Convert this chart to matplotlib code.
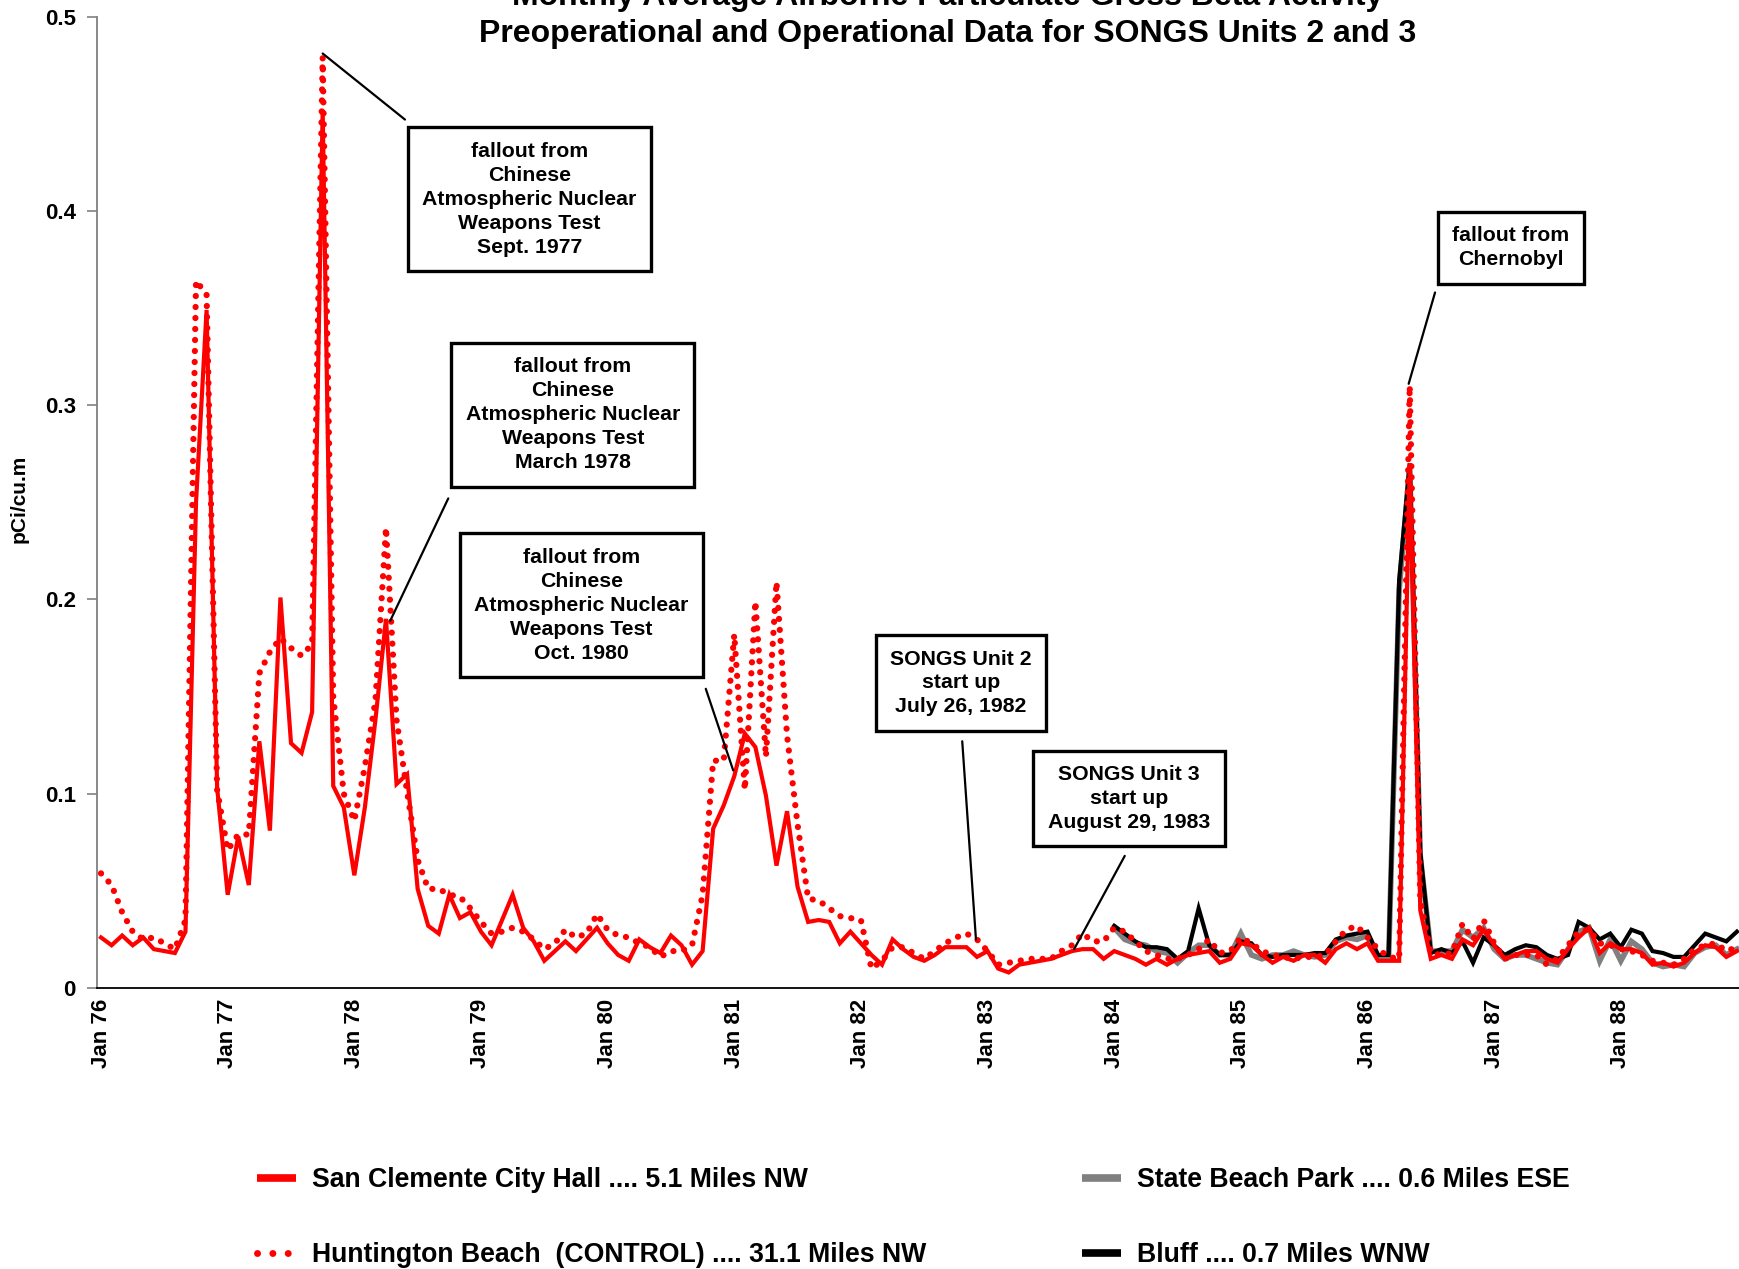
import numpy as np
import matplotlib
matplotlib.use("Agg")
import matplotlib.pyplot as plt
from matplotlib.lines import Line2D

plt.rcParams['font.family'] = ['Liberation Sans', 'DejaVu Sans']
plt.rcParams['font.weight'] = 'bold'

# ---------------- data (monthly, Jan 1976 - Dec 1988) ----------------
year_labels = ["Jan 76", "Jan 77", "Jan 78", "Jan 79", "Jan 80", "Jan 81", "Jan 82",
               "Jan 83", "Jan 84", "Jan 85", "Jan 86", "Jan 87", "Jan 88"]

san_clemente = [
    0.026, 0.022, 0.027, 0.022, 0.026, 0.020, 0.019, 0.018, 0.029, 0.250, 0.349, 0.103,  # 1976
    0.048, 0.078, 0.053, 0.127, 0.081, 0.201, 0.126, 0.121, 0.142, 0.452, 0.104, 0.093,  # 1977
    0.058, 0.093, 0.138, 0.190, 0.105, 0.110, 0.051, 0.032, 0.028, 0.048, 0.036, 0.039,  # 1978
    0.029, 0.022, 0.035, 0.048, 0.031, 0.024, 0.014, 0.019, 0.024, 0.019, 0.025, 0.031,  # 1979
    0.023, 0.017, 0.014, 0.025, 0.021, 0.018, 0.027, 0.022, 0.012, 0.019, 0.082, 0.094,  # 1980
    0.109, 0.131, 0.124, 0.099, 0.063, 0.091, 0.052, 0.034, 0.035, 0.034, 0.023, 0.029,  # 1981
    0.023, 0.017, 0.012, 0.025, 0.020, 0.016, 0.014, 0.017, 0.021, 0.021, 0.021, 0.016,  # 1982
    0.019, 0.010, 0.008, 0.012, 0.013, 0.014, 0.015, 0.017, 0.019, 0.020, 0.020, 0.015,  # 1983
    0.019, 0.017, 0.015, 0.012, 0.015, 0.012, 0.015, 0.017, 0.018, 0.019, 0.013, 0.015,  # 1984
    0.023, 0.022, 0.017, 0.013, 0.016, 0.014, 0.017, 0.017, 0.013, 0.020, 0.023, 0.020,  # 1985
    0.023, 0.014, 0.014, 0.014, 0.270, 0.040, 0.015, 0.017, 0.015, 0.025, 0.022, 0.030,  # 1986
    0.022, 0.015, 0.017, 0.019, 0.019, 0.015, 0.013, 0.020, 0.026, 0.031, 0.018, 0.023,  # 1987
    0.020, 0.020, 0.018, 0.012, 0.013, 0.011, 0.013, 0.018, 0.022, 0.021, 0.016, 0.019,  # 1988
]

huntington = [
    0.059, 0.053, 0.039, 0.029, 0.025, 0.026, 0.023, 0.020, 0.035, 0.364, 0.357, 0.102,  # 1976
    0.071, 0.079, 0.079, 0.162, 0.173, 0.180, 0.175, 0.171, 0.177, 0.479, 0.150, 0.100,  # 1977
    0.086, 0.114, 0.148, 0.237, 0.138, 0.101, 0.066, 0.051, 0.051, 0.048, 0.047, 0.041,  # 1978
    0.034, 0.028, 0.029, 0.031, 0.029, 0.025, 0.020, 0.023, 0.030, 0.026, 0.028, 0.038,  # 1979
    0.030, 0.027, 0.026, 0.023, 0.021, 0.016, 0.019, 0.019, 0.022, 0.048, 0.117, 0.117,  # 1980
    0.182, 0.102, 0.199, 0.119, 0.209, 0.130, 0.084, 0.046, 0.045, 0.041, 0.037, 0.036,  # 1981
    0.035, 0.010, 0.014, 0.021, 0.021, 0.018, 0.015, 0.019, 0.023, 0.026, 0.028, 0.025,  # 1982
    0.019, 0.012, 0.013, 0.014, 0.015, 0.015, 0.015, 0.019, 0.022, 0.028, 0.024, 0.024,  # 1983
    0.031, 0.029, 0.024, 0.019, 0.017, 0.015, 0.015, 0.017, 0.020, 0.025, 0.018, 0.019,  # 1984
    0.026, 0.023, 0.019, 0.017, 0.016, 0.015, 0.016, 0.016, 0.017, 0.024, 0.030, 0.032,  # 1985
    0.026, 0.020, 0.016, 0.015, 0.310, 0.045, 0.018, 0.017, 0.018, 0.033, 0.025, 0.035,  # 1986
    0.023, 0.015, 0.017, 0.017, 0.017, 0.012, 0.015, 0.022, 0.029, 0.030, 0.023, 0.022,  # 1987
    0.020, 0.019, 0.017, 0.014, 0.013, 0.012, 0.015, 0.020, 0.022, 0.023, 0.019, 0.021,  # 1988
]

# State Beach Park and Bluff stations: Jan 1984 - Dec 1988
onsite_start_month = 96
state_beach = [
    0.031, 0.025, 0.023, 0.022, 0.019, 0.018, 0.013, 0.018, 0.022, 0.022, 0.017, 0.017,  # 1984
    0.028, 0.017, 0.015, 0.017, 0.017, 0.019, 0.017, 0.016, 0.017, 0.024, 0.026, 0.025,  # 1985
    0.027, 0.016, 0.015, 0.205, 0.268, 0.068, 0.019, 0.019, 0.019, 0.030, 0.026, 0.031,  # 1986
    0.020, 0.015, 0.017, 0.017, 0.015, 0.013, 0.012, 0.020, 0.029, 0.031, 0.014, 0.025,  # 1987
    0.014, 0.024, 0.020, 0.013, 0.011, 0.012, 0.011, 0.018, 0.021, 0.022, 0.017, 0.020,  # 1988
]
bluff = [
    0.032, 0.028, 0.024, 0.021, 0.021, 0.020, 0.015, 0.019, 0.041, 0.022, 0.017, 0.017,  # 1984
    0.024, 0.023, 0.017, 0.016, 0.017, 0.017, 0.017, 0.018, 0.018, 0.025, 0.027, 0.028,  # 1985
    0.029, 0.017, 0.017, 0.210, 0.270, 0.070, 0.018, 0.020, 0.018, 0.024, 0.013, 0.026,  # 1986
    0.022, 0.017, 0.020, 0.022, 0.021, 0.017, 0.015, 0.017, 0.034, 0.031, 0.025, 0.028,  # 1987
    0.021, 0.030, 0.028, 0.019, 0.018, 0.016, 0.016, 0.022, 0.028, 0.026, 0.024, 0.029,  # 1988
]

series_labels = ["San Clemente City Hall .... 5.1 Miles NW",
                 "Huntington Beach  (CONTROL) .... 31.1 Miles NW",
                 "State Beach Park .... 0.6 Miles ESE",
                 "Bluff .... 0.7 Miles WNW"]

annotations = [
    # text, box centre (month, value), leader start, leader tip
    ("fallout from\nChinese\nAtmospheric Nuclear\nWeapons Test\nSept. 1977", (40.6, 0.406), (28.8, 0.447), (21.0, 0.481)),
    ("fallout from\nChinese\nAtmospheric Nuclear\nWeapons Test\nMarch 1978", (44.7, 0.295), (32.9, 0.252), (27.4, 0.189)),
    ("fallout from\nChinese\nAtmospheric Nuclear\nWeapons Test\nOct. 1980", (45.5, 0.197), (57.3, 0.154), (59.9, 0.112)),
    ("SONGS Unit 2\nstart up\nJuly 26, 1982", (81.5, 0.157), (81.6, 0.127), (82.9, 0.025)),
    ("SONGS Unit 3\nstart up\nAugust 29, 1983", (97.4, 0.0975), (97.0, 0.068), (92.2, 0.020)),
    ("fallout from\nChernobyl", (133.6, 0.381), (126.4, 0.358), (123.9, 0.311)),
]

# ---------------- figure ----------------
W, H = 1739, 1269
fig = plt.figure(figsize=(W / 100, H / 100), dpi=100)
ax = fig.add_axes([96.5 / W, 1 - 988 / H, 1 - 96.5 / W, (988 - 16.6) / H])

months = np.arange(len(san_clemente))
onsite_months = np.arange(onsite_start_month, onsite_start_month + len(state_beach))

ax.plot(onsite_months, state_beach, color='#808080', lw=4.0, solid_joinstyle='miter', zorder=2)
ax.plot(onsite_months, bluff, color='black', lw=3.0, solid_joinstyle='miter', zorder=3)
ax.plot(months, san_clemente, color='#ff0000', lw=3.0, solid_joinstyle='miter', zorder=4)
ax.plot(months, huntington, color='#ff0000', lw=4.5, linestyle=(0, (0.01, 1.75)),
        dash_capstyle='round', zorder=5)

ax.set_xlim(-0.43, 155.2)
ax.set_ylim(0, 0.5)
ax.set_xticks(np.arange(0, len(san_clemente), 12))
ax.set_xticklabels(year_labels, rotation=90, fontsize=16, fontweight='bold', va='top')
ax.set_yticks([0, 0.1, 0.2, 0.3, 0.4, 0.5])
ax.set_yticklabels(['0', '0.1', '0.2', '0.3', '0.4', '0.5'], fontsize=16, fontweight='bold')
ax.tick_params(axis='x', length=0, pad=8)
ax.tick_params(axis='y', direction='out', length=7, width=1.2, color='#808080', pad=8)
for s in ['top', 'right']:
    ax.spines[s].set_visible(False)
ax.spines['left'].set_color('#808080')
ax.spines['left'].set_linewidth(1.3)
ax.spines['bottom'].set_color('black')
ax.spines['bottom'].set_linewidth(1.3)

for text, centre, start, tip in annotations:
    ax.annotate('', xy=tip, xytext=start,
                arrowprops=dict(arrowstyle='-', lw=1.6, color='black', shrinkA=0, shrinkB=0),
                zorder=6, annotation_clip=False)
    ax.text(centre[0], centre[1], text, ha='center', va='center', multialignment='center',
            fontsize=15.3, fontweight='bold', linespacing=1.33, zorder=7,
            bbox=dict(boxstyle='square,pad=0.68', fc='white', ec='black', lw=2.4))

# title (partly cut at the top as in the original)
fig.text(948 / W, 1 - 5 / H, "Monthly Average Airborne Particulate Gross Beta Activity",
         ha='center', va='baseline', fontsize=23, fontweight='bold')
fig.text(948 / W, 1 - 42 / H, "Preoperational and Operational Data for SONGS Units 2 and 3",
         ha='center', va='baseline', fontsize=23, fontweight='bold')

fig.text(19 / W, 1 - 499 / H, "pCi/cu.m", rotation=90, ha='center', va='center',
         fontsize=15, fontweight='bold')

handles = [
    Line2D([], [], color='#ff0000', lw=5.5, solid_capstyle='butt'),
    Line2D([], [], color='#ff0000', lw=5.0, linestyle=(0, (0.01, 2.2)), dash_capstyle='round'),
    Line2D([], [], color='#808080', lw=5.5, solid_capstyle='butt'),
    Line2D([], [], color='black', lw=5.5, solid_capstyle='butt'),
]
fig.legend(handles, series_labels, ncol=2, loc='upper left',
           bbox_to_anchor=(257 / W, 1 - 1167 / H), bbox_transform=fig.transFigure,
           frameon=False, prop={'size': 19.2, 'weight': 'bold'},
           handlelength=1.45, handletextpad=0.6, columnspacing=5.85,
           labelspacing=1.85, borderpad=0, borderaxespad=0)

fig.savefig("out.png", dpi=100)
